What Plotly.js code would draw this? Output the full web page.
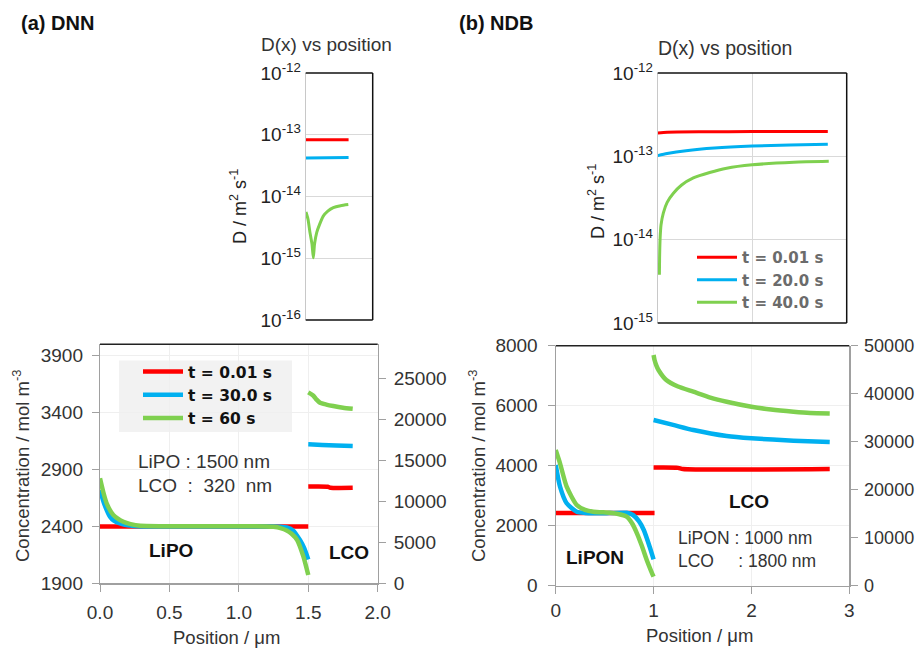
<!DOCTYPE html>
<html>
<head>
<meta charset="utf-8">
<script src="https://cdn.plot.ly/plotly-3.0.1.min.js"></script>
<style>html,body{margin:0;padding:0;background:#fff;}#chart{width:920px;height:650px;}</style>
</head>
<body>
<div id="chart"></div>
<script>
// ---------- (a) DNN : D(x) in LCO ----------
const dA_pos_flat = [0, 0.32];
const dA_red = [8.3e-14, 8.3e-14];
const dA_blue = [4.2e-14, 4.3e-14];
const dA_green_pos = [0.002, 0.017, 0.032, 0.047, 0.057, 0.066, 0.082, 0.103, 0.131, 0.165, 0.206, 0.26, 0.318];
const dA_green = [5.6e-15, 4.3e-15, 2.6e-15, 1.7e-15, 1.02e-15, 1.7e-15, 2.6e-15, 3.5e-15, 4.8e-15, 5.8e-15, 6.6e-15, 7.1e-15, 7.4e-15];

// ---------- (b) NDB : D(x) in LCO ----------
const dB_red_pos = [0, 0.1, 0.5, 1.0, 1.5, 1.8];
const dB_red = [1.9e-13, 1.95e-13, 1.97e-13, 1.98e-13, 1.98e-13, 1.98e-13];
const dB_blue_pos = [0, 0.1, 0.3, 0.6, 1.0, 1.4, 1.8];
const dB_blue = [1.02e-13, 1.08e-13, 1.17e-13, 1.26e-13, 1.33e-13, 1.37e-13, 1.4e-13];
const dB_green_pos = [0.018, 0.02, 0.025, 0.035, 0.06, 0.1, 0.166, 0.25, 0.377, 0.55, 0.73, 1.0, 1.44, 1.81];
const dB_green = [3.8e-15, 6e-15, 1.0e-14, 1.5e-14, 2.1e-14, 2.8e-14, 3.6e-14, 4.5e-14, 5.5e-14, 6.4e-14, 7.2e-14, 7.9e-14, 8.5e-14, 8.7e-14];

// ---------- (a) DNN : concentration ----------
const cA_red_pos = [0, 1.5];
const cA_red = [2400, 2400];
const cA_blue_pos = [0, 0.03, 0.072, 0.1, 0.144, 0.2, 0.3, 1.25, 1.3, 1.345, 1.39, 1.44, 1.47, 1.5];
const cA_blue = [2720, 2600, 2485, 2450, 2427, 2410, 2400, 2400, 2398, 2390, 2365, 2280, 2210, 2110];
const cA_green_pos = [0, 0.024, 0.048, 0.096, 0.168, 0.22, 0.29, 1.2, 1.25, 1.3, 1.345, 1.38, 1.42, 1.465, 1.5];
const cA_green = [2823, 2700, 2603, 2500, 2441, 2420, 2405, 2400, 2396, 2385, 2365, 2335, 2280, 2134, 1973];
const cA_lco_red_pos = [1.5, 1.64, 1.66, 1.82];
const cA_lco_red = [11800, 11780, 11660, 11650];
const cA_lco_blue_pos = [1.5, 1.6, 1.7, 1.82];
const cA_lco_blue = [16950, 16880, 16800, 16740];
const cA_lco_green_pos = [1.5, 1.537, 1.56, 1.585, 1.63, 1.68, 1.75, 1.82];
const cA_lco_green = [23290, 22880, 22400, 22020, 21800, 21620, 21420, 21290];

// ---------- (b) NDB : concentration ----------
const cB_red_pos = [0, 1.01];
const cB_red = [2420, 2420];
const cB_blue_pos = [0, 0.044, 0.112, 0.215, 0.3, 0.385, 0.55, 0.725, 0.79, 0.85, 0.9, 0.96, 1.0];
const cB_blue = [4023, 3300, 2747, 2467, 2425, 2413, 2420, 2430, 2357, 2150, 1857, 1300, 880];
const cB_green_pos = [0, 0.044, 0.112, 0.215, 0.3, 0.385, 0.555, 0.64, 0.725, 0.78, 0.83, 0.88, 0.93, 0.97, 1.0];
const cB_green = [4523, 4080, 3300, 2690, 2530, 2467, 2430, 2390, 2300, 2080, 1747, 1330, 857, 530, 300];
const cB_lco_red_pos = [1.0, 1.25, 1.3, 2.8];
const cB_lco_red = [24600, 24550, 24300, 24300];
const cB_lco_blue_pos = [1.0, 1.2, 1.406, 1.747, 2.0, 2.43, 2.8];
const cB_lco_blue = [34520, 33500, 32430, 31180, 30700, 30210, 29930];
const cB_lco_green_pos = [1.0, 1.01, 1.03, 1.05, 1.13, 1.25, 1.406, 1.58, 1.747, 2.0, 2.2, 2.43, 2.6, 2.8];
const cB_lco_green = [48060, 47020, 45800, 44940, 42850, 41500, 40420, 39200, 38330, 37290, 36700, 36250, 36000, 35900];

// ---------- labels ----------
const namesA = ['t = 0.01 s', 't = 30.0 s', 't = 60 s'];
const namesB = ['t = 0.01 s', 't = 20.0 s', 't = 40.0 s'];
const logTickVals = [1e-16, 1e-15, 1e-14, 1e-13, 1e-12];
const logTickText = ['10<sup>-16</sup>', '10<sup>-15</sup>', '10<sup>-14</sup>', '10<sup>-13</sup>', '10<sup>-12</sup>'];
const xTicksA = [0, 0.5, 1, 1.5, 2];
const xTickTextA = ['0.0', '0.5', '1.0', '1.5', '2.0'];
const yTicksA = [1900, 2400, 2900, 3400, 3900];
const y2TicksA = [0, 5000, 10000, 15000, 20000, 25000];

const RED = '#ff0000', BLUE = '#00b0f0', GREEN = '#7fd04f';
const FONT = 'Liberation Sans, Arial, sans-serif';
const LEGFONT = 'DejaVu Sans, sans-serif';

function line(x, y, color, w, xa, ya, extra) {
  return Object.assign({type: 'scatter', mode: 'lines', x: x, y: y, xaxis: xa, yaxis: ya,
    line: {color: color, width: w, shape: 'spline', smoothing: 0.6}, showlegend: false, hoverinfo: 'skip'}, extra || {});
}

const traces = [
  // (a) D
  line(dA_pos_flat, dA_red, RED, 3, 'x', 'y'),
  line(dA_pos_flat, dA_blue, BLUE, 3, 'x', 'y'),
  line(dA_green_pos, dA_green, GREEN, 3, 'x', 'y'),
  // (b) D
  line(dB_red_pos, dB_red, RED, 3, 'x2', 'y2', {showlegend: true, name: namesB[0], legend: 'legend2'}),
  line(dB_blue_pos, dB_blue, BLUE, 3, 'x2', 'y2', {showlegend: true, name: namesB[1], legend: 'legend2'}),
  line(dB_green_pos, dB_green, GREEN, 3, 'x2', 'y2', {showlegend: true, name: namesB[2], legend: 'legend2'}),
  // (a) concentration
  line(cA_red_pos, cA_red, RED, 4.5, 'x3', 'y3', {showlegend: true, name: namesA[0], legend: 'legend'}),
  line(cA_blue_pos, cA_blue, BLUE, 4.5, 'x3', 'y3', {showlegend: true, name: namesA[1], legend: 'legend'}),
  line(cA_green_pos, cA_green, GREEN, 4.5, 'x3', 'y3', {showlegend: true, name: namesA[2], legend: 'legend'}),
  line(cA_lco_red_pos, cA_lco_red, RED, 4.5, 'x3', 'y4'),
  line(cA_lco_blue_pos, cA_lco_blue, BLUE, 4.5, 'x3', 'y4'),
  line(cA_lco_green_pos, cA_lco_green, GREEN, 4.5, 'x3', 'y4'),
  // (b) concentration
  line(cB_red_pos, cB_red, RED, 4.5, 'x4', 'y5'),
  line(cB_blue_pos, cB_blue, BLUE, 4.5, 'x4', 'y5'),
  line(cB_green_pos, cB_green, GREEN, 4.5, 'x4', 'y5'),
  line(cB_lco_red_pos, cB_lco_red, RED, 4.5, 'x4', 'y6'),
  line(cB_lco_blue_pos, cB_lco_blue, BLUE, 4.5, 'x4', 'y6'),
  line(cB_lco_green_pos, cB_lco_green, GREEN, 4.5, 'x4', 'y6')
];

const W = 920, H = 650;
const px = v => v / W, py = v => 1 - v / H;

const tickFontBig = {family: FONT, size: 19, color: '#333'};
const tickFontLog = {family: FONT, size: 19, color: '#222'};
const grayAxis = {showline: true, linecolor: '#a0a0a0', linewidth: 1.2, ticks: 'outside', ticklen: 7, tickcolor: '#a0a0a0',
  zeroline: false, gridcolor: '#efefef', tickfont: tickFontBig, fixedrange: true};

const layout = {
  width: W, height: H, margin: {l: 0, r: 0, t: 0, b: 0},
  paper_bgcolor: '#fff', plot_bgcolor: 'rgba(0,0,0,0)',
  font: {family: FONT, color: '#222'},
  xaxis: {domain: [px(305.7), px(372.7)], anchor: 'y', range: [0, 0.5], showticklabels: false, showgrid: false,
    zeroline: false, showline: false, ticks: ''},
  yaxis: {domain: [py(320), py(73)], anchor: 'x', type: 'log', range: [-16, -12], tickvals: logTickVals, ticktext: logTickText,
    gridcolor: '#d9d9d9', showline: true, linecolor: '#c8c8c8', ticks: '', zeroline: false, tickfont: tickFontLog},
  xaxis2: {domain: [px(657.7), px(846.7)], anchor: 'y2', range: [0, 2], dtick: 1, showticklabels: false, showgrid: true,
    gridcolor: '#d9d9d9', zeroline: false, showline: false, ticks: ''},
  yaxis2: {domain: [py(323), py(73)], anchor: 'x2', type: 'log', range: [-15, -12], tickvals: logTickVals, ticktext: logTickText,
    gridcolor: '#d9d9d9', showline: true, linecolor: '#c8c8c8', ticks: '', zeroline: false, tickfont: tickFontLog},
  xaxis3: Object.assign({}, grayAxis, {domain: [px(100), px(377.7)], anchor: 'y3', range: [0, 2], tickvals: xTicksA, ticktext: xTickTextA, ticklabelstandoff: 5}),
  yaxis3: Object.assign({}, grayAxis, {domain: [py(583.3), py(344.3)], anchor: 'x3', range: [1900, 4000], tickvals: yTicksA, ticklabelstandoff: 5}),
  yaxis4: Object.assign({}, grayAxis, {overlaying: 'y3', side: 'right', anchor: 'x3', range: [0, 29150], tickvals: y2TicksA, tickformat: 'd', showgrid: false, ticklabelstandoff: 4}),
  xaxis4: Object.assign({}, grayAxis, {domain: [px(555.7), px(849.3)], anchor: 'y5', range: [0, 3], dtick: 1}),
  yaxis5: Object.assign({}, grayAxis, {domain: [py(585.7), py(345.7)], anchor: 'x4', range: [0, 8000], dtick: 2000, tickformat: 'd', ticklabelstandoff: 6}),
  yaxis6: Object.assign({}, grayAxis, {overlaying: 'y5', side: 'right', anchor: 'x4', range: [0, 50000], dtick: 10000, tickformat: 'd', showgrid: false,
    ticklabelstandoff: 3, tickfont: {family: FONT, size: 18, color: '#333'}}),
  showlegend: true,
  legend: {x: px(138), y: py(355), xanchor: 'left', yanchor: 'top', bgcolor: 'rgba(0,0,0,0)', borderwidth: 0,
    font: {family: LEGFONT, size: 15.5, color: '#111', weight: 'bold'}, itemwidth: 40, tracegroupgap: 0},
  legend2: {x: px(692), y: py(241), xanchor: 'left', yanchor: 'top', bgcolor: 'rgba(0,0,0,0)', borderwidth: 0,
    font: {family: LEGFONT, size: 15, color: '#6b6b6b', weight: 'bold'}, itemwidth: 40},
  shapes: [
    // light legend background box of panel (a)
    {type: 'rect', xref: 'paper', yref: 'paper', x0: px(119), x1: px(292), y0: py(432), y1: py(360.5), fillcolor: '#f2f2f2', line: {width: 0}, layer: 'below'},
    // black frames (top/right/bottom) of D panels
    {type: 'line', xref: 'x domain', yref: 'y domain', x0: 0, x1: 1, y0: 1, y1: 1, line: {color: '#111', width: 1.5}},
    {type: 'line', xref: 'x domain', yref: 'y domain', x0: 1, x1: 1, y0: 0, y1: 1, line: {color: '#111', width: 1.5}},
    {type: 'line', xref: 'x domain', yref: 'y domain', x0: 0, x1: 1, y0: 0, y1: 0, line: {color: '#111', width: 1.5}},
    {type: 'line', xref: 'x2 domain', yref: 'y2 domain', x0: 0, x1: 1, y0: 1, y1: 1, line: {color: '#111', width: 1.5}},
    {type: 'line', xref: 'x2 domain', yref: 'y2 domain', x0: 1, x1: 1, y0: 0, y1: 1, line: {color: '#111', width: 1.5}},
    {type: 'line', xref: 'x2 domain', yref: 'y2 domain', x0: 0, x1: 1, y0: 0, y1: 0, line: {color: '#111', width: 1.5}},
    // black top border of concentration panels
    {type: 'line', xref: 'x3 domain', yref: 'y3 domain', x0: 0, x1: 1, y0: 1, y1: 1, line: {color: '#222', width: 1.5}},
    {type: 'line', xref: 'x4 domain', yref: 'y5 domain', x0: 0, x1: 1, y0: 1, y1: 1, line: {color: '#222', width: 1.5}}
  ],
  annotations: [
    {text: '<b>(a) DNN</b>', x: px(19), y: py(23), xanchor: 'left', yanchor: 'middle', font: {size: 20, color: '#111'}},
    {text: '<b>(b) NDB</b>', x: px(457), y: py(23), xanchor: 'left', yanchor: 'middle', font: {size: 20, color: '#111'}},
    {text: 'D(x) vs position', x: px(326.5), y: py(45), xanchor: 'center', yanchor: 'middle', font: {size: 19, color: '#333'}},
    {text: 'D(x) vs position', x: px(724.5), y: py(48), xanchor: 'center', yanchor: 'middle', font: {size: 19.5, color: '#333'}},
    {text: 'D / m<sup>2</sup> s<sup>-1</sup>', x: px(238), y: py(207), textangle: -90, xanchor: 'center', yanchor: 'middle', font: {size: 18, color: '#222'}},
    {text: 'D / m<sup>2</sup> s<sup>-1</sup>', x: px(597), y: py(202), textangle: -90, xanchor: 'center', yanchor: 'middle', font: {size: 18, color: '#222'}},
    {text: 'Concentration / mol m<sup>-3</sup>', x: px(21), y: py(466), textangle: -90, xanchor: 'center', yanchor: 'middle', font: {size: 18.5, color: '#333'}},
    {text: 'Concentration / mol m<sup>-3</sup>', x: px(477), y: py(466), textangle: -90, xanchor: 'center', yanchor: 'middle', font: {size: 18.5, color: '#333'}},
    {text: 'Position / μm', x: px(226), y: py(637.5), xanchor: 'center', yanchor: 'middle', font: {size: 18.5, color: '#333'}},
    {text: 'Position / μm', x: px(699), y: py(635), xanchor: 'center', yanchor: 'middle', font: {size: 18.5, color: '#333'}},
    {text: 'LiPO : 1500 nm', x: px(136), y: py(461.7), xanchor: 'left', yanchor: 'middle', font: {size: 19, color: '#333'}},
    {text: 'LCO\u00a0\u00a0:\u00a0\u00a0320\u00a0\u00a0nm', x: px(136), y: py(485), xanchor: 'left', yanchor: 'middle', font: {size: 19, color: '#333'}},
    {text: '<b>LiPO</b>', x: px(171), y: py(550.5), xanchor: 'center', yanchor: 'middle', font: {size: 19, color: '#111'}},
    {text: '<b>LCO</b>', x: px(349), y: py(552.5), xanchor: 'center', yanchor: 'middle', font: {size: 19, color: '#111'}},
    {text: '<b>LCO</b>', x: px(749), y: py(501.7), xanchor: 'center', yanchor: 'middle', font: {size: 19, color: '#111'}},
    {text: '<b>LiPON</b>', x: px(595), y: py(557.3), xanchor: 'center', yanchor: 'middle', font: {size: 19, color: '#111'}},
    {text: 'LiPON : 1000 nm', x: px(676), y: py(538.3), xanchor: 'left', yanchor: 'middle', font: {size: 17.5, color: '#333'}},
    {text: 'LCO\u00a0\u00a0\u00a0\u00a0\u00a0: 1800 nm', x: px(676), y: py(560.7), xanchor: 'left', yanchor: 'middle', font: {size: 17.5, color: '#333'}}
  ].map(a => Object.assign({xref: 'paper', yref: 'paper', showarrow: false}, a))
};

Plotly.newPlot('chart', traces, layout, {staticPlot: true, displayModeBar: false});
</script>
</body>
</html>
